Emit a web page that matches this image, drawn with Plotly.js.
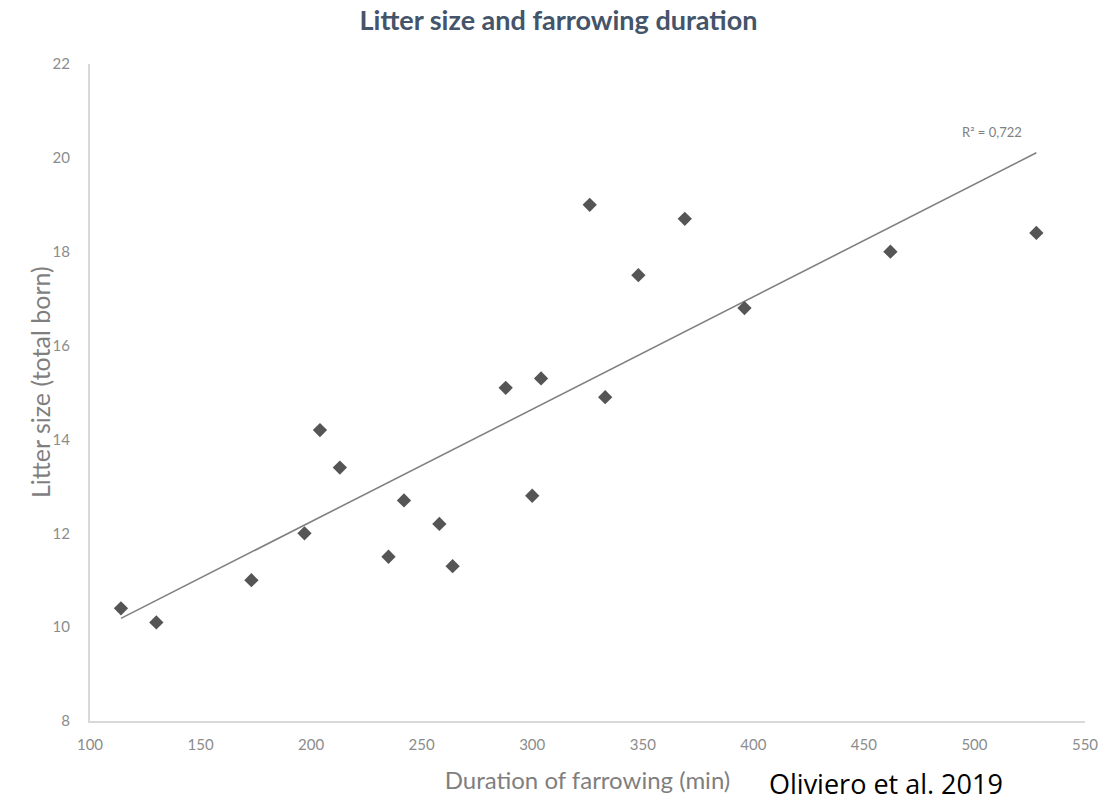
<!DOCTYPE html>
<html>
<head>
<meta charset="utf-8">
<script src="https://cdn.plot.ly/plotly-3.0.1.min.js"></script>
<style>html,body{margin:0;padding:0;background:#fff;}#chart{width:1117px;height:802px;}</style>
</head>
<body>
<div id="chart"></div>
<script>
// Data
var durationMin = [114, 130, 173, 197, 204, 213, 235, 242, 258, 264, 288, 300, 304, 326, 333, 348, 369, 396, 462, 528];
var litterSize  = [10.4, 10.1, 11.0, 12.0, 14.2, 13.4, 11.5, 12.7, 12.2, 11.3, 15.1, 12.8, 15.3, 19.0, 14.9, 17.5, 18.7, 16.8, 18.0, 18.4];
var xTickVals = [100, 150, 200, 250, 300, 350, 400, 450, 500, 550];
var yTickVals = [8, 10, 12, 14, 16, 18, 20, 22];
var r2Label = "R\u00b2 = 0,722";
var chartTitle = "Litter size and farrowing duration";
var xTitle = "Duration of farrowing (min)";
var yTitle = "Litter size (total born)";
var sourceNote = "Oliviero et al. 2019";

// least-squares trend line computed from the data
function linFit(xs, ys) {
  var n = xs.length, mx = 0, my = 0;
  for (var i = 0; i < n; i++) { mx += xs[i]; my += ys[i]; }
  mx /= n; my /= n;
  var sxy = 0, sxx = 0;
  for (var j = 0; j < n; j++) { sxy += (xs[j]-mx)*(ys[j]-my); sxx += (xs[j]-mx)*(xs[j]-mx); }
  var b = sxy / sxx;
  return {a: my - b*mx, b: b};
}
var fit = linFit(durationMin, litterSize);
var xMin = Math.min.apply(null, durationMin), xMax = Math.max.apply(null, durationMin);
var trendX = [xMin, xMax];
var trendY = trendX.map(function(v){ return fit.a + fit.b * v; });

var traces = [
  {x: trendX, y: trendY, type: 'scatter', mode: 'lines',
   line: {color: '#808080', width: 1.6}, hoverinfo: 'skip'},
  {x: durationMin, y: litterSize, type: 'scatter', mode: 'markers',
   marker: {symbol: 'diamond', size: 11, color: '#555555'}}
];

var FONT = 'Lato, "Open Sans", sans-serif';
var tickFont = {family: FONT, size: 15, color: '#8c8c8c'};

var layout = {
  width: 1117, height: 802,
  paper_bgcolor: '#ffffff', plot_bgcolor: '#ffffff',
  showlegend: false,
  margin: {l: 90, r: 32, t: 64, b: 81},
  title: {text: '<b>' + chartTitle + '</b>', x: 0.5, xref: 'container', xanchor: 'center',
          y: 1 - 21/802, yref: 'container', yanchor: 'middle',
          font: {family: FONT, size: 27, color: '#44546a'}},
  xaxis: {range: [100, 550], tickvals: xTickVals, ticktext: xTickVals.map(String),
          showgrid: false, zeroline: false, showline: true, linecolor: '#d9d9d9', linewidth: 2,
          ticks: 'outside', ticklen: 9, tickcolor: 'rgba(0,0,0,0)', tickfont: tickFont,
          title: {text: xTitle, standoff: 20, font: {family: FONT, size: 24, color: '#7f7f7f'}}},
  yaxis: {range: [8, 22], tickvals: yTickVals, ticktext: yTickVals.map(String),
          showgrid: false, zeroline: false, showline: true, linecolor: '#d9d9d9', linewidth: 2,
          ticks: 'outside', ticklen: 15, tickcolor: 'rgba(0,0,0,0)', tickfont: tickFont},
  annotations: [
    {x: -0.0502, y: 0.516, xref: 'paper', yref: 'paper', text: yTitle, showarrow: false,
     textangle: -90, xanchor: 'center', yanchor: 'middle',
     font: {family: FONT, size: 25, color: '#7f7f7f'}},
    {x: 508, y: 20.55, xref: 'x', yref: 'y', text: r2Label, showarrow: false,
     font: {family: FONT, size: 13, color: '#7f7f7f'}},
    {x: 0.80, y: -0.0944, xref: 'paper', yref: 'paper', text: sourceNote, showarrow: false,
     xanchor: 'center', yanchor: 'middle',
     font: {family: '"Open Sans", Lato, sans-serif', size: 27, color: '#000000'}}
  ]
};

Plotly.newPlot('chart', traces, layout, {displayModeBar: false, staticPlot: true});
</script>
</body>
</html>
